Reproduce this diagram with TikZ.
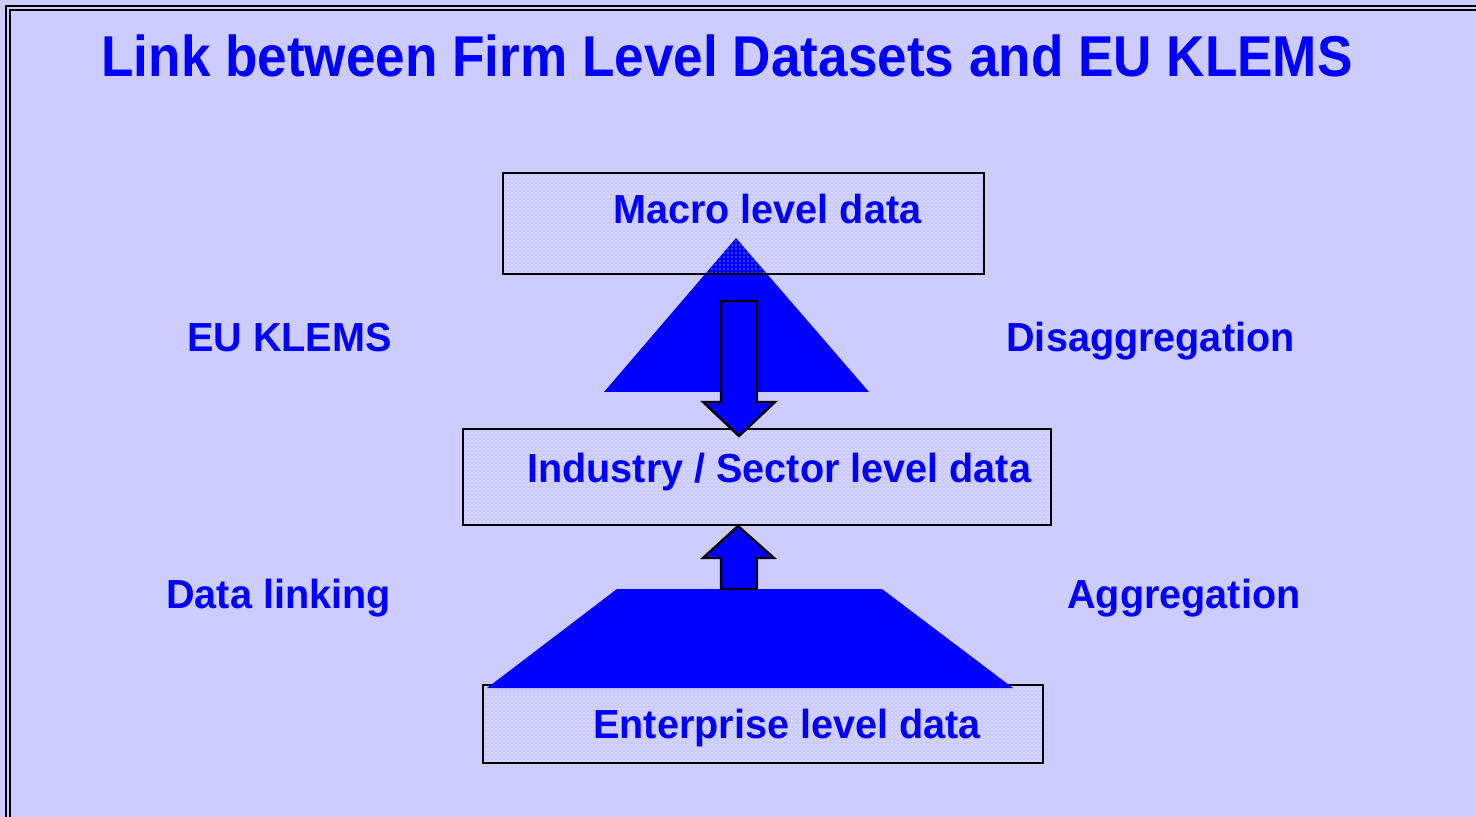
\documentclass[tikz,border=0pt]{standalone}
\usepackage{fontspec}
\setmainfont{Liberation Sans}
\newfontfamily\headfont[FakeStretch=0.922]{Liberation Sans}
\newfontfamily\labelfont[FakeStretch=0.975]{Liberation Sans}
\usepackage{tikz}
\usetikzlibrary{patterns.meta, positioning}
\definecolor{panel}{HTML}{CCCCFF}
\definecolor{deepblue}{HTML}{0000FF}

\begin{document}
\begin{tikzpicture}[
    x=0.5pt, y=-0.5pt,
    levelbox/.style={rectangle, draw=black, line width=1.2pt,
                     pattern={Dots[radius=0.35pt, distance=2pt]}, pattern color=white!85!panel},
    boxtext/.style={anchor=base west, inner sep=0pt, text=deepblue, font=\labelfont\fontsize{20.3pt}{24pt}\selectfont\bfseries},
    sidelabel/.style={inner sep=0pt, text=deepblue, font=\labelfont\fontsize{20.3pt}{24pt}\selectfont\bfseries},
    blockarrow/.style={fill=deepblue, draw=black, line width=1.2pt, line join=miter},
    wedge/.style={fill=deepblue, draw=none},
]

% Page area and the double frame
\clip (0,0) rectangle (1476,817);
\fill[panel] (0,0) rectangle (1476,817);
\draw[line width=1pt] (6,6) rectangle (1490,830);
\draw[line width=1pt] (9.7,9.7) rectangle (1486,826);

% Title
\node[anchor=base west, inner sep=0pt, text=deepblue,
      font=\headfont\fontsize{28.8pt}{34pt}\selectfont\bfseries] (title) at (101,77)
      {Link between Firm Level Datasets and EU KLEMS};

% Top triangle, partly under the macro box
\fill[wedge] (736,238) -- (869,392) -- (604,392) -- cycle;

% The three data levels
\node[levelbox, minimum width=240.5pt, minimum height=50.5pt] (macro) at (743.5,223.5) {};
\node[boxtext] (macrotext) at (613,224) {Macro level data};

\node[levelbox, minimum width=294pt, minimum height=48pt] (industry) at (757,477) {};
\node[boxtext] (industrytext) at (527,482) {Industry / Sector level data};

\node[levelbox, minimum width=280pt, minimum height=39pt] (enterprise) at (763,724) {};
\node[boxtext] (enterprisetext) at (593,738) {Enterprise level data};

% Bottom trapezoid sits on the enterprise box
\fill[wedge] (617,589) -- (882,589) -- (1013,688) -- (487,688) -- cycle;

% Block arrows between the levels
\coordinate (downtip) at (739,436);
\coordinate (uptip) at (738,526);
\draw[blockarrow] (downtip) -- ++(-36,-34) -- ++(18,0) -- ++(0,-101) -- ++(36,0)
    -- ++(0,101) -- ++(18,0) -- cycle;
\draw[blockarrow] (uptip) -- ++(-35,32) -- ++(18,0) -- ++(0,31) -- ++(36,0)
    -- ++(0,-31) -- ++(17,0) -- cycle;

% Side labels
\node[sidelabel, anchor=base east] (klems) at (392,352) {EU KLEMS};
\node[sidelabel, anchor=base west] (disagg) at (1006,352) {Disaggregation};
\node[sidelabel, anchor=base east] (linking) at (391,608) {Data linking};
\node[sidelabel, anchor=base west] (agg) at (1067,608) {Aggregation};

\end{tikzpicture}
\end{document}
